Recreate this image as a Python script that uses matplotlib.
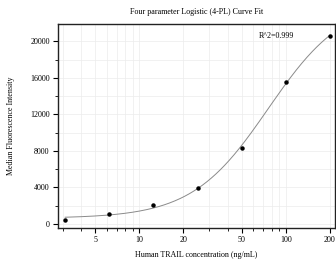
import numpy as np
import matplotlib
matplotlib.use("Agg")
import matplotlib.pyplot as plt
from matplotlib.ticker import LogLocator, FixedLocator, NullFormatter, MultipleLocator

# data
conc = [3.125, 6.25, 12.5, 25, 50, 100, 200]
mfi = [420, 1060, 2060, 3900, 8320, 15550, 20600]
xticks = [5, 10, 20, 50, 100, 200]
yticks = [0, 4000, 8000, 12000, 16000, 20000]

plt.rcParams['font.family'] = ['Liberation Serif', 'DejaVu Serif']

x = np.array(conc, dtype=float)
y = np.array(mfi, dtype=float)

# 4PL fit: y = D + (A - D) / (1 + (x/C)^B); A, D linear for fixed B, C
best = None
for B in np.linspace(0.5, 3.0, 251):
    for C in np.logspace(1, 3, 401):
        g = 1.0 / (1.0 + (x / C) ** B)
        M = np.column_stack([g, 1 - g])
        coef, *_ = np.linalg.lstsq(M, y, rcond=None)
        r = np.sum((M @ coef - y) ** 2)
        if best is None or r < best[0]:
            best = (r, B, C, coef[0], coef[1])
_, B, C, A, D = best

xs = np.logspace(np.log10(3.125), np.log10(200), 300)
ys = D + (A - D) / (1 + (xs / C) ** B)

fig = plt.figure(figsize=(3.36, 2.66), dpi=100)
ax = fig.add_axes([0.1726, 0.143, 0.824, 0.767])

ax.plot(xs, ys, color='#8a8a8a', lw=0.7, zorder=2)
ax.plot(x, y, 'o', color='black', ms=2.2, zorder=3)

ax.set_xscale('log')
ax.set_xlim(2.79, 216)
ax.set_ylim(-450, 21900)

ax.xaxis.set_major_locator(FixedLocator(xticks))
ax.set_xticklabels([str(t) for t in xticks])
ax.xaxis.set_minor_locator(LogLocator(base=10, subs=np.arange(1, 10)))
ax.xaxis.set_minor_formatter(NullFormatter())
ax.yaxis.set_major_locator(FixedLocator(yticks))
ax.yaxis.set_minor_locator(MultipleLocator(2000))

ax.grid(True, which='both', color='#ececec', lw=0.5, zorder=0)
ax.set_axisbelow(True)

for s in ax.spines.values():
    s.set_linewidth(1.0)
    s.set_color('#222222')

fs = 5.8
ax.tick_params(which='major', length=3.5, width=0.8, labelsize=fs, direction='out', pad=2.5)
ax.tick_params(which='minor', length=2, width=0.6, direction='out')

ax.set_title('Four parameter Logistic (4-PL) Curve Fit', fontsize=fs, pad=7)
ax.set_xlabel('Human TRAIL concentration (ng/mL)', fontsize=fs, labelpad=5)
ax.set_ylabel('Median Fluorescence Intensity', fontsize=fs, labelpad=11)
ax.text(0.79, 0.94, 'R^2=0.999', transform=ax.transAxes, fontsize=fs, ha='center', va='center')

fig.savefig('out.png', dpi=100)
